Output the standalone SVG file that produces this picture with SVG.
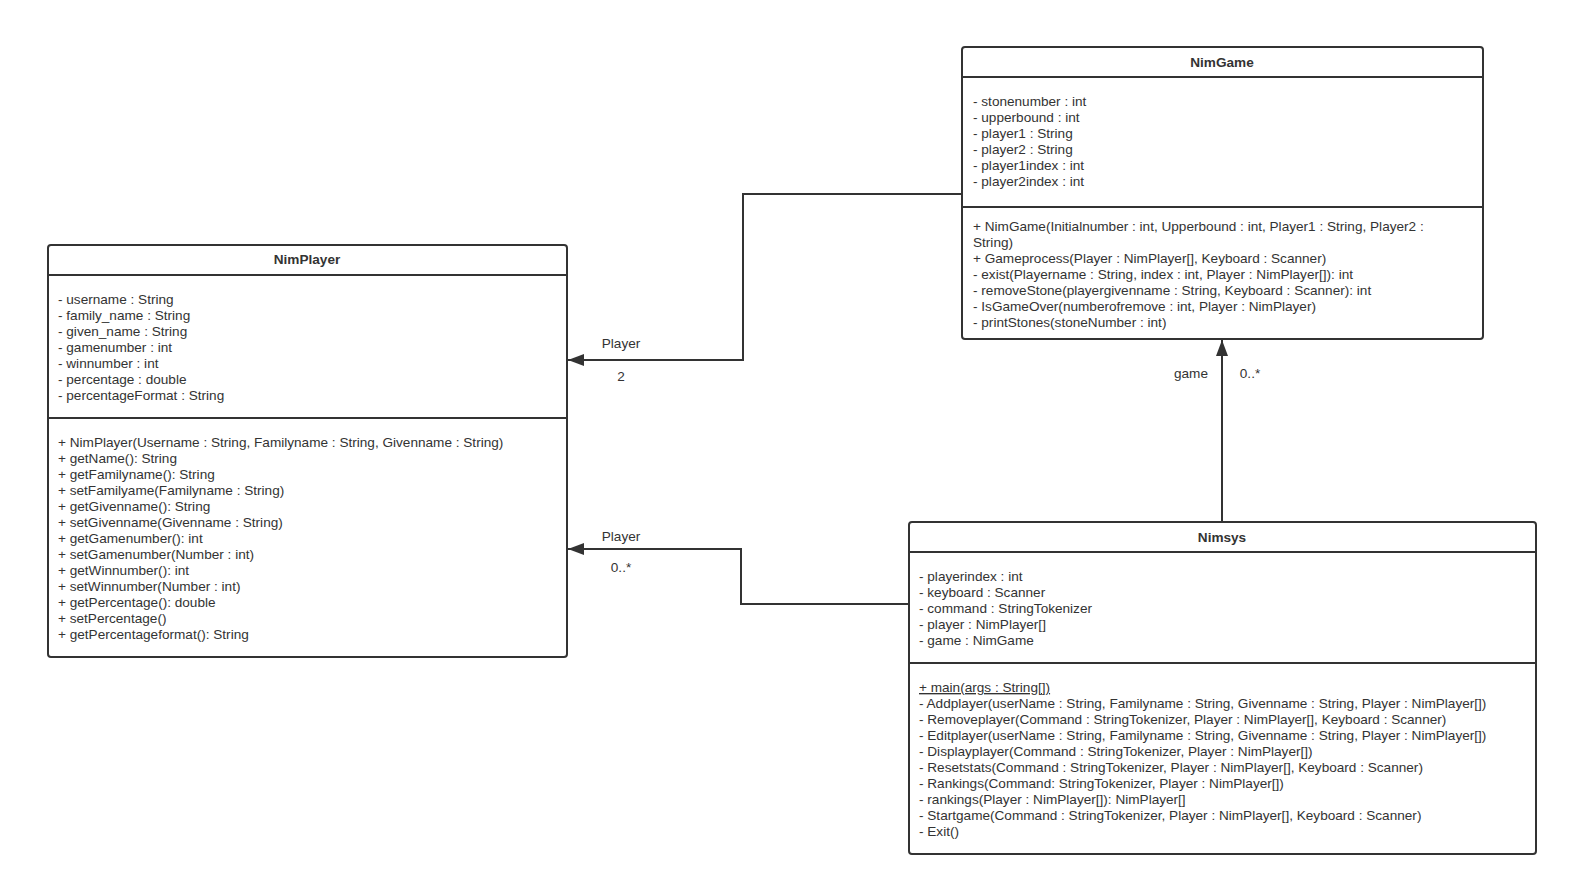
<svg xmlns="http://www.w3.org/2000/svg" width="1577" height="891" viewBox="0 0 1577 891">
<style>
.box{fill:#fff;stroke:#333;stroke-width:2}
.sep{stroke:#333;stroke-width:2}
.t{font-family:"Liberation Sans",Arial,sans-serif;font-size:13.6px;fill:#333}
.title{font-family:"Liberation Sans",Arial,sans-serif;font-size:13.6px;font-weight:bold;fill:#333;text-anchor:middle}
.c{fill:none;stroke:#333;stroke-width:2}
.lbl{font-family:"Liberation Sans",Arial,sans-serif;font-size:13.6px;fill:#333;text-anchor:middle}
</style>
<defs>
<marker id="arr" markerWidth="16" markerHeight="12" refX="16" refY="6" orient="auto" markerUnits="userSpaceOnUse">
<path d="M0,0 L16,6 L0,12 Z" fill="#333"/>
</marker>
</defs>
<rect width="1577" height="891" fill="#fff"/>
<g id="connectors">
<path class="c" d="M962,194 H743 V360 H568" marker-end="url(#arr)"/>
<path class="c" d="M909,604 H741 V549 H568" marker-end="url(#arr)"/>
<path class="c" d="M1222,522 V340" marker-end="url(#arr)"/>
<text class="lbl" x="621" y="348">Player</text>
<text class="lbl" x="621" y="381">2</text>
<text class="lbl" x="621" y="541">Player</text>
<text class="lbl" x="621" y="572">0..*</text>
<text class="lbl" x="1191" y="378">game</text>
<text class="lbl" x="1250" y="378">0..*</text>
</g>
<g id="NimGame">
<rect class="box" x="962" y="47" width="521" height="292" rx="3"/>
<line class="sep" x1="962" y1="77" x2="1483" y2="77"/>
<line class="sep" x1="962" y1="207" x2="1483" y2="207"/>
<text class="title" x="1222" y="67">NimGame</text>
<text class="t" x="973" y="106">- stonenumber : int</text>
<text class="t" x="973" y="122">- upperbound : int</text>
<text class="t" x="973" y="138">- player1 : String</text>
<text class="t" x="973" y="154">- player2 : String</text>
<text class="t" x="973" y="170">- player1index : int</text>
<text class="t" x="973" y="186">- player2index : int</text>
<text class="t" x="973" y="231">+ NimGame(Initialnumber : int, Upperbound : int, Player1 : String, Player2 :</text>
<text class="t" x="973" y="247">String)</text>
<text class="t" x="973" y="263">+ Gameprocess(Player : NimPlayer[], Keyboard : Scanner)</text>
<text class="t" x="973" y="279">- exist(Playername : String, index : int, Player : NimPlayer[]): int</text>
<text class="t" x="973" y="295">- removeStone(playergivenname : String, Keyboard : Scanner): int</text>
<text class="t" x="973" y="311">- IsGameOver(numberofremove : int, Player : NimPlayer)</text>
<text class="t" x="973" y="327">- printStones(stoneNumber : int)</text>
</g>
<g id="NimPlayer">
<rect class="box" x="48" y="245" width="519" height="412" rx="3"/>
<line class="sep" x1="48" y1="275" x2="567" y2="275"/>
<line class="sep" x1="48" y1="418" x2="567" y2="418"/>
<text class="title" x="307" y="264">NimPlayer</text>
<text class="t" x="58" y="304">- username : String</text>
<text class="t" x="58" y="320">- family_name : String</text>
<text class="t" x="58" y="336">- given_name : String</text>
<text class="t" x="58" y="352">- gamenumber : int</text>
<text class="t" x="58" y="368">- winnumber : int</text>
<text class="t" x="58" y="384">- percentage : double</text>
<text class="t" x="58" y="400">- percentageFormat : String</text>
<text class="t" x="58" y="447">+ NimPlayer(Username : String, Familyname : String, Givenname : String)</text>
<text class="t" x="58" y="463">+ getName(): String</text>
<text class="t" x="58" y="479">+ getFamilyname(): String</text>
<text class="t" x="58" y="495">+ setFamilyame(Familyname : String)</text>
<text class="t" x="58" y="511">+ getGivenname(): String</text>
<text class="t" x="58" y="527">+ setGivenname(Givenname : String)</text>
<text class="t" x="58" y="543">+ getGamenumber(): int</text>
<text class="t" x="58" y="559">+ setGamenumber(Number : int)</text>
<text class="t" x="58" y="575">+ getWinnumber(): int</text>
<text class="t" x="58" y="591">+ setWinnumber(Number : int)</text>
<text class="t" x="58" y="607">+ getPercentage(): double</text>
<text class="t" x="58" y="623">+ setPercentage()</text>
<text class="t" x="58" y="639">+ getPercentageformat(): String</text>
</g>
<g id="Nimsys">
<rect class="box" x="909" y="522" width="627" height="332" rx="3"/>
<line class="sep" x1="909" y1="552" x2="1536" y2="552"/>
<line class="sep" x1="909" y1="663" x2="1536" y2="663"/>
<text class="title" x="1222" y="542">Nimsys</text>
<text class="t" x="919" y="581">- playerindex : int</text>
<text class="t" x="919" y="597">- keyboard : Scanner</text>
<text class="t" x="919" y="613">- command : StringTokenizer</text>
<text class="t" x="919" y="629">- player : NimPlayer[]</text>
<text class="t" x="919" y="645">- game : NimGame</text>
<text class="t" x="919" y="692" text-decoration="underline">+ main(args : String[])</text>
<text class="t" x="919" y="708">- Addplayer(userName : String, Familyname : String, Givenname : String, Player : NimPlayer[])</text>
<text class="t" x="919" y="724">- Removeplayer(Command : StringTokenizer, Player : NimPlayer[], Keyboard : Scanner)</text>
<text class="t" x="919" y="740">- Editplayer(userName : String, Familyname : String, Givenname : String, Player : NimPlayer[])</text>
<text class="t" x="919" y="756">- Displayplayer(Command : StringTokenizer, Player : NimPlayer[])</text>
<text class="t" x="919" y="772">- Resetstats(Command : StringTokenizer, Player : NimPlayer[], Keyboard : Scanner)</text>
<text class="t" x="919" y="788">- Rankings(Command: StringTokenizer, Player : NimPlayer[])</text>
<text class="t" x="919" y="804">- rankings(Player : NimPlayer[]): NimPlayer[]</text>
<text class="t" x="919" y="820">- Startgame(Command : StringTokenizer, Player : NimPlayer[], Keyboard : Scanner)</text>
<text class="t" x="919" y="836">- Exit()</text>
</g>
</svg>
